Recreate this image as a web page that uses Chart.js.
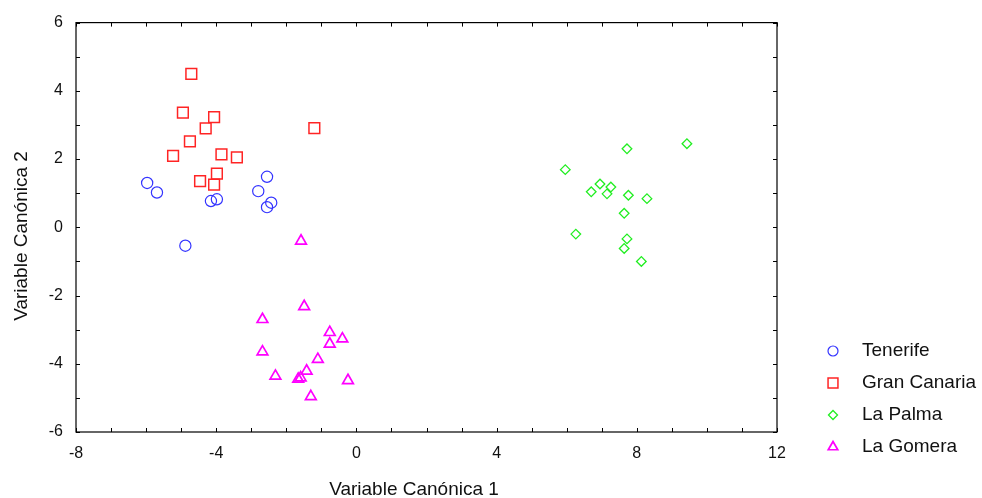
<!DOCTYPE html>
<html>
<head>
<meta charset="utf-8">
<script src="https://cdn.jsdelivr.net/npm/chart.js@4/dist/chart.umd.min.js"></script>
<style>
  html, body { margin: 0; padding: 0; background: #fff; }
  #wrap { width: 982px; height: 498px; }
</style>
</head>
<body>
<div id="wrap"><canvas id="chart" width="982" height="498"></canvas></div>
<script>
// axis ranges and labelled ticks
const xRange = [-8, 12];
const yRange = [-6, 6];
const xLabelStep = 4;
const yLabelStep = 2;

const seriesNames = ["Tenerife", "Gran Canaria", "La Palma", "La Gomera"];

// canonical scores
const tenerife = [
  [-5.97, 1.30], [-5.69, 1.02], [-4.15, 0.77], [-3.98, 0.82], [-2.55, 1.48],
  [-2.80, 1.06], [-2.43, 0.72], [-2.55, 0.59], [-4.88, -0.54]
];
const granCanaria = [
  [-4.71, 4.50], [-4.95, 3.36], [-4.06, 3.23], [-4.30, 2.90], [-4.75, 2.52],
  [-5.23, 2.09], [-3.85, 2.14], [-3.41, 2.05], [-1.20, 2.91], [-3.98, 1.57],
  [-4.46, 1.35], [-4.06, 1.25]
];
const laPalma = [
  [7.72, 2.30], [9.43, 2.45], [5.96, 1.69], [6.95, 1.27], [7.26, 1.18],
  [6.70, 1.04], [7.15, 0.98], [7.76, 0.94], [8.29, 0.84], [7.64, 0.41],
  [6.26, -0.20], [7.72, -0.34], [7.64, -0.62], [8.13, -1.00]
];
const laGomera = [
  [-1.58, -0.40], [-1.49, -2.32], [-2.68, -2.70], [-0.76, -3.08], [-0.40, -3.27],
  [-0.76, -3.42], [-2.68, -3.65], [-1.10, -3.87], [-1.42, -4.21], [-2.31, -4.36],
  [-1.59, -4.41], [-1.66, -4.45], [-0.24, -4.49], [-1.30, -4.96]
];

const toPoints = arr => arr.map(p => ({ x: p[0], y: p[1] }));

const FONT = "'Liberation Sans', Arial, sans-serif";
const TEXT = "#111";

// box with inward ticks, axis titles and a legend at the lower right
const framePlugin = {
  id: "frame",
  beforeDatasetsDraw(chart) {
    const { ctx, chartArea: a, scales } = chart;
    ctx.save();
    ctx.strokeStyle = "#000";
    ctx.lineWidth = 1.2;
    ctx.strokeRect(a.left, a.top, a.right - a.left, a.bottom - a.top);
    ctx.beginPath();
    scales.x.ticks.forEach(t => {
      const px = Math.round(scales.x.getPixelForValue(t.value)) + 0.5;
      ctx.moveTo(px, a.bottom); ctx.lineTo(px, a.bottom - 4);
      ctx.moveTo(px, a.top); ctx.lineTo(px, a.top + 4);
    });
    scales.y.ticks.forEach(t => {
      const py = Math.round(scales.y.getPixelForValue(t.value)) + 0.5;
      ctx.moveTo(a.left, py); ctx.lineTo(a.left + 4, py);
      ctx.moveTo(a.right, py); ctx.lineTo(a.right - 4, py);
    });
    ctx.lineWidth = 1;
    ctx.stroke();
    ctx.restore();
  },
  afterDraw(chart) {
    const { ctx } = chart;
    ctx.save();
    ctx.fillStyle = TEXT;
    ctx.font = "19px " + FONT;
    ctx.textAlign = "center";
    ctx.textBaseline = "alphabetic";
    ctx.fillText("Variable Canónica 1", 414, 495);
    ctx.save();
    ctx.translate(27, 236);
    ctx.rotate(-Math.PI / 2);
    ctx.fillText("Variable Canónica 2", 0, 0);
    ctx.restore();

    // legend
    chart.data.datasets.forEach((ds, i) => {
      const y = 351 + i * 32;
      ctx.save();
      ctx.strokeStyle = ds.pointBorderColor;
      ctx.fillStyle = "rgba(0,0,0,0)";
      ctx.lineWidth = ds.pointBorderWidth;
      Chart.helpers.drawPoint(ctx, {
        pointStyle: ds.pointStyle,
        radius: ds.legendRadius,
        rotation: 0,
        borderWidth: ds.pointBorderWidth
      }, 833, y);
      ctx.restore();
      ctx.fillStyle = TEXT;
      ctx.font = "19px " + FONT;
      ctx.textAlign = "left";
      ctx.textBaseline = "middle";
      ctx.fillText(ds.label, 862, y);
    });
    ctx.restore();
  }
};

const styles = [
  { style: "circle", r: 5.6, lr: 5, color: "#3434ff", w: 1.2 },
  { style: "rect", r: 7.6, lr: 7, color: "#ff2424", w: 1.5 },
  { style: "rectRot", r: 4.8, lr: 4.5, color: "#22ee22", w: 1.3 },
  { style: "triangle", r: 6.2, lr: 5.5, color: "#ff00ff", w: 1.7 }
];
const seriesData = [tenerife, granCanaria, laPalma, laGomera];

new Chart(document.getElementById("chart"), {
  type: "scatter",
  data: {
    datasets: seriesData.map((d, i) => ({
      label: seriesNames[i],
      data: toPoints(d),
      pointStyle: styles[i].style,
      pointRadius: styles[i].r,
      legendRadius: styles[i].lr,
      pointBorderColor: styles[i].color,
      pointBackgroundColor: "rgba(0,0,0,0)",
      pointBorderWidth: styles[i].w
    }))
  },
  options: {
    responsive: false,
    animation: false,
    events: [],
    layout: { padding: { left: 0, top: 21, right: 205, bottom: 0 } },
    plugins: { legend: { display: false }, tooltip: { enabled: false } },
    scales: {
      x: {
        type: "linear",
        min: xRange[0],
        max: xRange[1],
        grid: { display: false, drawTicks: false },
        border: { display: false },
        afterFit: s => { s.height = 66; },
        ticks: {
          stepSize: 1,
          autoSkip: false,
          maxRotation: 0,
          padding: 12,
          color: TEXT,
          font: { family: FONT, size: 16 },
          callback: v => (v % xLabelStep === 0 ? String(v) : "")
        }
      },
      y: {
        type: "linear",
        min: yRange[0],
        max: yRange[1],
        grid: { display: false, drawTicks: false },
        border: { display: false },
        afterFit: s => { s.width = 76; },
        ticks: {
          stepSize: 1,
          autoSkip: false,
          padding: 13,
          color: TEXT,
          font: { family: FONT, size: 16 },
          callback: v => (v % yLabelStep === 0 ? String(v) : "")
        }
      }
    }
  },
  plugins: [framePlugin]
});
</script>
</body>
</html>
